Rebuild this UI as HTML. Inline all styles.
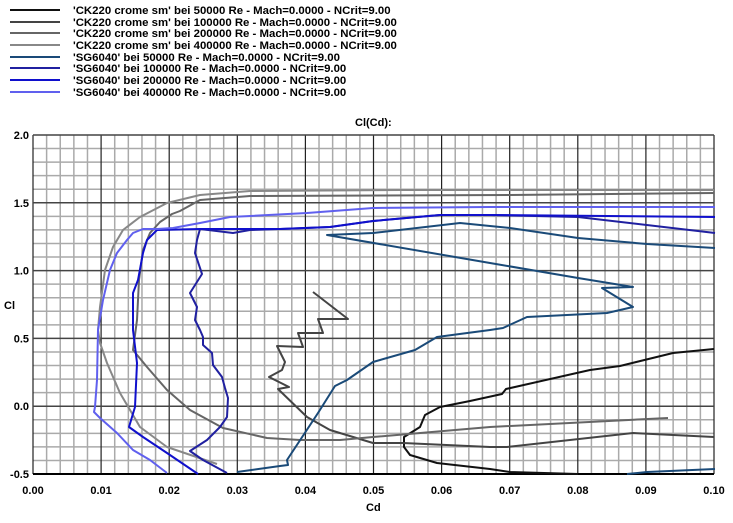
<!DOCTYPE html>
<html><head><meta charset="utf-8"><style>
body{margin:0;background:#fff;width:733px;height:518px;overflow:hidden}
svg text{font-family:"Liberation Sans",sans-serif;font-weight:bold;font-size:11px;fill:#000}
svg text.lg{font-size:11.4px}
</style></head><body>
<svg width="733" height="518" viewBox="0 0 733 518">
<g id="legend" stroke-width="2">
<line x1="10" y1="10" x2="60" y2="10" stroke="#111"/>
<line x1="10" y1="22" x2="60" y2="22" stroke="#444"/>
<line x1="10" y1="33" x2="60" y2="33" stroke="#666"/>
<line x1="10" y1="45" x2="60" y2="45" stroke="#888"/>
<line x1="10" y1="57" x2="60" y2="57" stroke="#1a4a78"/>
<line x1="10" y1="68" x2="60" y2="68" stroke="#2020a0"/>
<line x1="10" y1="80" x2="60" y2="80" stroke="#1010cc"/>
<line x1="10" y1="92" x2="60" y2="92" stroke="#6060ee"/>
</g>
<text class="lg" x="73" y="14">'CK220 crome sm' bei 50000 Re - Mach=0.0000 - NCrit=9.00</text>
<text class="lg" x="73" y="26">'CK220 crome sm' bei 100000 Re - Mach=0.0000 - NCrit=9.00</text>
<text class="lg" x="73" y="37">'CK220 crome sm' bei 200000 Re - Mach=0.0000 - NCrit=9.00</text>
<text class="lg" x="73" y="49">'CK220 crome sm' bei 400000 Re - Mach=0.0000 - NCrit=9.00</text>
<text class="lg" x="73" y="61">'SG6040' bei 50000 Re - Mach=0.0000 - NCrit=9.00</text>
<text class="lg" x="73" y="72">'SG6040' bei 100000 Re - Mach=0.0000 - NCrit=9.00</text>
<text class="lg" x="73" y="84">'SG6040' bei 200000 Re - Mach=0.0000 - NCrit=9.00</text>
<text class="lg" x="73" y="96">'SG6040' bei 400000 Re - Mach=0.0000 - NCrit=9.00</text>
<text x="355" y="126">Cl(Cd):</text>
<g id="grid"></g>
<g fill="none" stroke-width="2" stroke-linejoin="round">
<polyline stroke="#111" points="714,349 673,353 620,366 590,370 506,389 502,394 470,401 440,407 425,415 420,427 404,437 404,447 410,455 437,463 490,469 510,472 578,474"/>
<polyline stroke="#444" points="313,292 348,319 318,319 323,333 298,333 303,347 277,346 285,362 282,370 269,377 289,387 278,389 307,417 330,430 373,443 403,443 490,447 507,447 633,433 714,437"/>
<polyline stroke="#666" points="714,193 510,195 250,196 200,200 180,211 172,214 160,222 150,233 143,250 139,280 137,320 133,350 147,367 167,390 190,410 223,428 267,438 300,440 340,440 373,437 490,427 668,418"/>
<polyline stroke="#888" points="714,190 400,190 250,191 200,195 167,203 140,217 123,230 113,247 105,270 100,307 98,330 100,343 107,363 120,393 140,427 167,447 217,464"/>
<polyline stroke="#1a4a78" points="715,248 647,244 578,238 510,228 490,226 460,223 373,233 327,235 490,263 578,278 633,287 602,288 633,307 607,313 527,317 503,328 490,330 437,337 415,350 373,362 347,380 335,386 318,413 287,460 288,465 280,466 237,472"/>
<polyline stroke="#1a4a78" points="627,474 647,472 715,469"/>
<polyline stroke="#2020a0" points="715,233 578,217 490,215 440,215 373,221 330,227 280,229 250,230 233,233 200,229 197,240 195,253 202,274 190,293 197,307 195,320 200,330 203,337 203,345 212,353 213,365 222,377 225,388 228,398 227,417 220,427 207,440 190,451 203,460 227,473"/>
<polyline stroke="#1010cc" points="715,217 490,215 440,215 373,221 330,227 280,229 250,229 200,229 157,230 147,240 143,253 138,280 133,293 133,330 137,363 135,407 129,427 143,437 167,453 198,474"/>
<polyline stroke="#6060ee" points="715,207 490,207 373,208 307,213 230,217 200,223 173,228 157,229 143,229 133,233 127,240 117,253 110,270 103,300 98,330 97,380 95,407 94,412 100,418 117,433 133,450 150,460 167,473"/>
</g>
<g id="labels"></g>
<text x="4" y="309">Cl</text>
<text x="366" y="511">Cd</text>
</svg>
<script>
(function(){
var ns="http://www.w3.org/2000/svg",g=document.getElementById("grid"),L=document.getElementById("labels");
var x0=33,x1=714,y0=135,y1=474;
function ln(a,b,c,d,col,w){var e=document.createElementNS(ns,"line");e.setAttribute("x1",a);e.setAttribute("y1",b);e.setAttribute("x2",c);e.setAttribute("y2",d);e.setAttribute("stroke",col);e.setAttribute("stroke-width",w);g.appendChild(e);}
function tx(x,y,s,anc){var e=document.createElementNS(ns,"text");e.setAttribute("x",x);e.setAttribute("y",y);e.setAttribute("text-anchor",anc);e.textContent=s;L.appendChild(e);}
for(var i=0;i<=50;i++){var x=x0+(x1-x0)*i/50;if(i%5)ln(x,y0,x,y1,"#aaa",1.5);}
for(var j=0;j<=25;j++){var y=y0+(y1-y0)*j/25;if(j%5)ln(x0,y,x1,y,"#aaa",1.5);}
for(var i=0;i<=10;i++){var x=x0+(x1-x0)*i/10;ln(x,y0,x,y1,"#222",1.2);tx(x,494,(i/100).toFixed(2),"middle");}
for(var j=0;j<=5;j++){var y=y0+(y1-y0)*j/5;ln(x0,y,x1,y,"#444",1.5);tx(29,y+4,(2-j*0.5).toFixed(1),"end");}
ln(x0,y1,x1,y1,"#000",2);
})();
</script>
</body></html>
